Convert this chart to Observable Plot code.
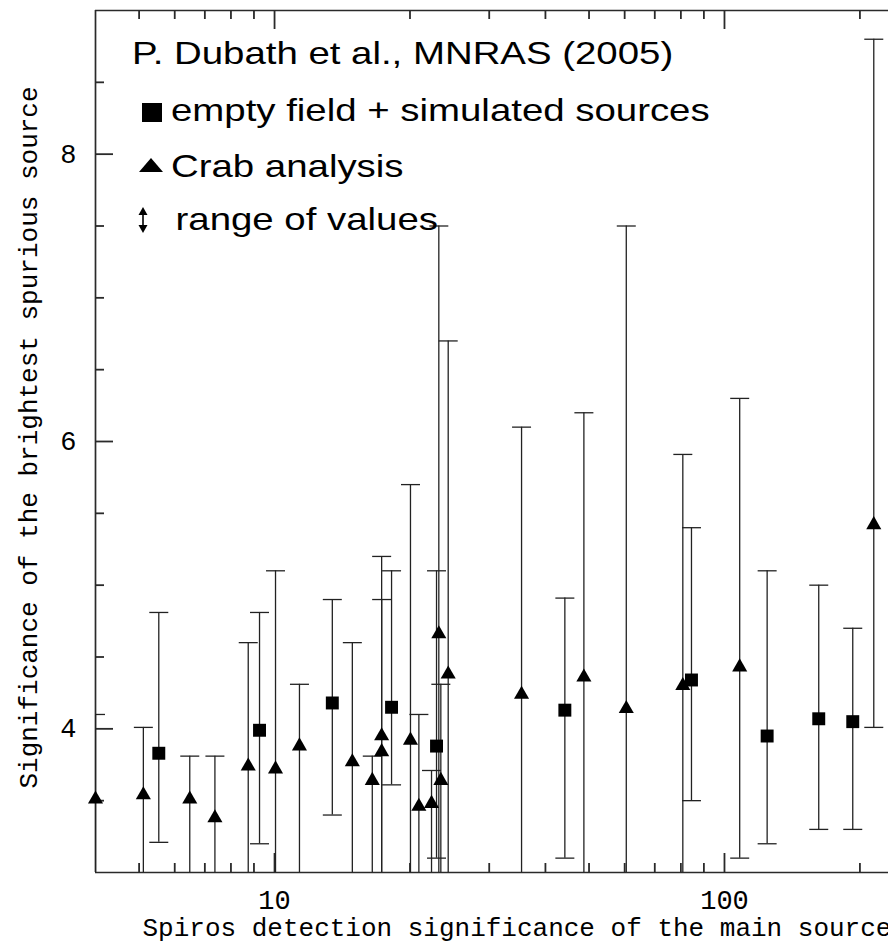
<!DOCTYPE html>
<html>
<head>
<meta charset="utf-8">
<script src="https://cdn.jsdelivr.net/npm/d3@7"></script>
<script src="https://cdn.jsdelivr.net/npm/@observablehq/plot@0.6"></script>
<style>
  html, body { margin: 0; padding: 0; background: #fff; }
  svg { display: block; }
</style>
</head>
<body>
<div id="chart"></div>
<script>
// ---- Data ----
// Crab analysis (triangles)
const crabX  = [4.0, 5.11, 6.48, 7.37, 8.74, 10.05, 11.36, 14.89, 16.49, 17.3, 17.3, 20.05, 20.93, 22.33, 23.18, 23.42, 24.32, 35.4, 48.7, 60.5, 80.8, 108.1, 214.7];
const crabY  = [3.51, 3.54, 3.51, 3.38, 3.74, 3.72, 3.88, 3.77, 3.64, 3.95, 3.84, 3.92, 3.46, 3.48, 4.66, 3.64, 4.38, 4.24, 4.36, 4.14, 4.30, 4.43, 5.42];
const crabLo = [2.8, 2.8, 2.8, 2.8, 2.8, 2.8, 2.8, 2.8, 2.8, 2.8, 2.8, 2.8, 2.8, 2.8, 2.8, 2.8, 2.8, 2.8, 2.8, 2.8, 2.8, 3.10, 4.01];
const crabHi = [4.10, 4.01, 3.81, 3.81, 4.60, 5.10, 4.31, 4.60, 3.81, 5.20, 4.90, 5.70, 4.10, 3.71, 7.50, 4.31, 6.70, 6.10, 6.20, 7.50, 5.91, 6.30, 8.80];

// Empty field + simulated sources (squares)
const fieldX  = [5.53, 9.26, 13.44, 18.2, 22.91, 44.18, 84.46, 124.4, 162.0, 192.8];
const fieldY  = [3.83, 3.99, 4.18, 4.15, 3.88, 4.13, 4.34, 3.95, 4.07, 4.05];
const fieldLo = [3.21, 3.20, 3.40, 3.61, 3.10, 3.10, 3.50, 3.20, 3.30, 3.30];
const fieldHi = [4.81, 4.81, 4.90, 5.10, 5.10, 4.91, 5.40, 5.10, 5.00, 4.70];

// Axis ticks and labels
const xTicksMajor = [10, 100];
const xTicksMinor = [5, 6, 7, 8, 9, 20, 30, 40, 50, 60, 70, 80, 90, 200];
const yTicksMajor = [4, 6, 8];
const yTicksMinor = [3.5, 4.5, 5, 5.5, 6.5, 7, 7.5, 8.5];
const xLabel = "Spiros detection significance of the main source";
const yLabel = "Significance of the brightest spurious source";
const legendTitle = "P. Dubath et al., MNRAS (2005)";
const legendLabels = ["empty field + simulated sources", "Crab analysis", "range of values"];

// ---- Tables ----
const crab = crabX.map((x, i) => ({x, y: crabY[i], lo: crabLo[i], hi: crabHi[i]}));
const field = fieldX.map((x, i) => ({x, y: fieldY[i], lo: fieldLo[i], hi: fieldHi[i]}));
const all = crab.concat(field);

// ---- Layout ----
const W = 888, H = 949, mL = 95, mR = 0, mT = 10, mB = 77;
const xDomain = [4, 231.5], yDomain = [3, 9];
const frameW = W - mL - mR, frameH = H - mT - mB;

// custom cap symbol (half-width = r px)
const hline = {draw(c, s) { const r = Math.sqrt(s / Math.PI); c.moveTo(-r, 0); c.lineTo(r, 0); }};

const axisColor = "#2a2a2a";
const barColor = "#222";
const mono = "'Liberation Mono', 'Courier New', monospace";

// inward ticks on bottom & top (mirrored), and on the left
const xTicks = (vals, len) => [
  Plot.ruleX(vals, {x: d => d, insetTop: frameH - len, stroke: axisColor, strokeWidth: 1.8}),
  Plot.ruleX(vals, {x: d => d, insetBottom: frameH - len, stroke: axisColor, strokeWidth: 1.8})
];
const yTicks = (vals, len) =>
  Plot.ruleY(vals, {y: d => d, insetRight: frameW - len, stroke: axisColor, strokeWidth: 1.8});

const svg = Plot.plot({
  width: W,
  height: H,
  marginLeft: mL,
  marginRight: mR,
  marginTop: mT,
  marginBottom: mB,
  style: {fontFamily: mono, fontSize: "26px", background: "white", color: "black"},
  x: {type: "log", domain: xDomain, axis: null},
  y: {domain: yDomain, axis: null},
  marks: [
    // frame (top, bottom, left)
    Plot.ruleY(yDomain, {stroke: axisColor, strokeWidth: 1.7}),
    Plot.ruleX([xDomain[0]], {stroke: axisColor, strokeWidth: 1.7}),
    // ticks
    ...xTicks(xTicksMajor, 19),
    ...xTicks(xTicksMinor, 9),
    yTicks(yTicksMajor, 18),
    yTicks(yTicksMinor, 9),
    // tick labels
    Plot.axisX(xTicksMajor, {anchor: "bottom", tickSize: 0, tickPadding: 17, fontSize: 27, fontFamily: mono, tickFormat: d => String(d), label: null}),
    Plot.axisY(yTicksMajor, {anchor: "left", tickSize: 0, tickPadding: 19, fontSize: 27, fontFamily: mono, tickFormat: d => String(d), label: null}),
    // axis titles
    Plot.text([xLabel], {frameAnchor: "bottom-left", textAnchor: "start", lineAnchor: "bottom", dx: 47, dy: 63, fontSize: 26, fontFamily: mono, fill: "black"}),
    Plot.text([yLabel], {frameAnchor: "left", rotate: -90, textAnchor: "middle", lineAnchor: "middle", dx: -67, dy: -4, fontSize: 26, fontFamily: mono, fill: "black"}),
    // error bars
    Plot.ruleX(all, {x: "x", y1: "lo", y2: "hi", stroke: barColor, strokeWidth: 1.3, clip: true}),
    Plot.dot(all, {x: "x", y: "hi", symbol: hline, r: 9.5, stroke: barColor, strokeWidth: 1.3, fill: "none", clip: true}),
    Plot.dot(all, {x: "x", y: "lo", symbol: hline, r: 9.5, stroke: barColor, strokeWidth: 1.3, fill: "none", clip: true}),
    // markers
    Plot.dot(crab, {x: "x", y: "y", symbol: "triangle", r: 5.6, fill: "black", stroke: "none"}),
    Plot.dot(field, {x: "x", y: "y", symbol: "square", r: 7.3, fill: "black", stroke: "none"})
  ]
});

// ---- Legend (inside plot area) ----
const s = d3.select(svg);
const lg = s.append("g")
  .attr("font-family", "'Liberation Sans', Arial, sans-serif")
  .attr("font-size", 32)
  .attr("text-anchor", "start")
  .attr("fill", "black");
const addText = (txt, x, y) => lg.append("text")
  .attr("text-anchor", "start")
  .attr("transform", `translate(${x},${y}) scale(1.2,1)`)
  .text(txt);
addText(legendTitle, 132, 64);
lg.append("rect").attr("x", 142).attr("y", 103).attr("width", 20).attr("height", 19).attr("fill", "black");
addText(legendLabels[0], 171, 121);
lg.append("path").attr("d", "M139,172L151,158L163,172Z").attr("fill", "black");
addText(legendLabels[1], 171, 177);
lg.append("line").attr("x1", 143).attr("x2", 143).attr("y1", 212).attr("y2", 228).attr("stroke", "black").attr("stroke-width", 1.6);
lg.append("path").attr("d", "M143,207L138.5,215L147.5,215Z").attr("fill", "black");
lg.append("path").attr("d", "M143,233L138.5,225L147.5,225Z").attr("fill", "black");
addText(legendLabels[2], 175.5, 230);

document.getElementById("chart").append(svg);
</script>
</body>
</html>
